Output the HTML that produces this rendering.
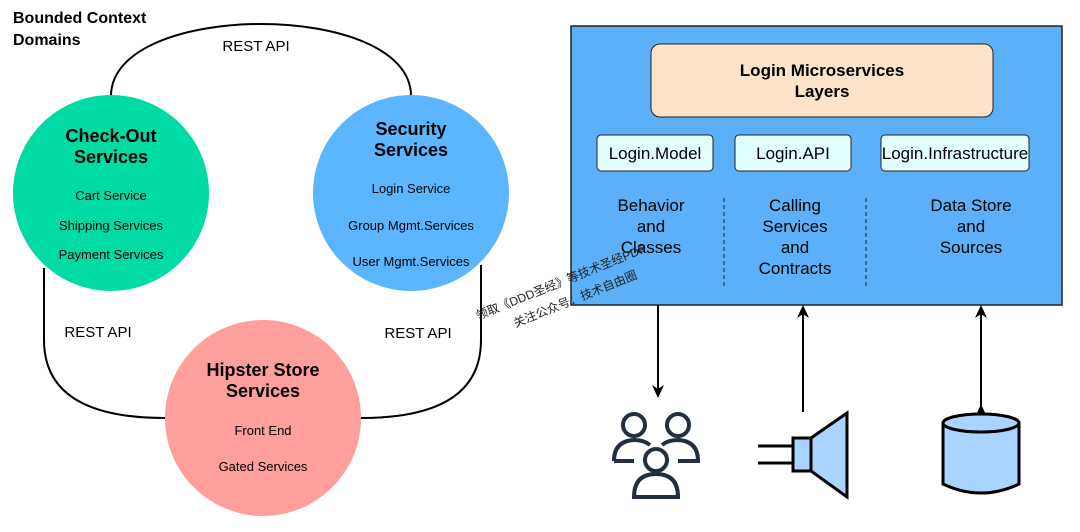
<!DOCTYPE html>
<html><head><meta charset="utf-8"><style>
body{margin:0;background:#fff;width:1080px;height:527px;overflow:hidden}
svg text{font-family:"Liberation Sans","Noto Sans CJK SC",sans-serif}
</style></head><body>
<svg width="1080" height="527" viewBox="0 0 1080 527" xmlns="http://www.w3.org/2000/svg">
<defs><marker id="ah" markerWidth="14" markerHeight="14" refX="7" refY="7" orient="auto" markerUnits="userSpaceOnUse"><path d="M0,1 L13,7 L0,13 L4,7 Z" fill="#000"/></marker></defs>
<text x="13" y="23" font-size="16" font-weight="bold">Bounded Context</text>
<text x="13" y="45" font-size="16" font-weight="bold">Domains</text>
<path d="M111,96 C111,0 411,0 411,96" fill="none" stroke="#000" stroke-width="2"/>
<text x="256" y="51" font-size="15" text-anchor="middle">REST API</text>
<path d="M44,268 L44,340 Q44,418 165,418" fill="none" stroke="#000" stroke-width="2"/>
<path d="M481,265 L481,340 Q481,418 361,418" fill="none" stroke="#000" stroke-width="2"/>
<text x="98" y="337" font-size="15" text-anchor="middle">REST API</text>
<text x="418" y="338" font-size="15" text-anchor="middle">REST API</text>
<circle cx="111" cy="193" r="98" fill="#00dba3"/>
<text x="111" y="142" font-size="18" font-weight="bold" text-anchor="middle">Check-Out</text>
<text x="111" y="163" font-size="18" font-weight="bold" text-anchor="middle">Services</text>
<text x="111" y="200" font-size="13" text-anchor="middle">Cart Service</text>
<text x="111" y="230" font-size="13" text-anchor="middle">Shipping Services</text>
<text x="111" y="259" font-size="13" text-anchor="middle">Payment Services</text>
<circle cx="411" cy="193" r="98" fill="#5cb6ff"/>
<text x="411" y="135" font-size="18" font-weight="bold" text-anchor="middle">Security</text>
<text x="411" y="156" font-size="18" font-weight="bold" text-anchor="middle">Services</text>
<text x="411" y="193" font-size="13" text-anchor="middle">Login Service</text>
<text x="411" y="230" font-size="13" text-anchor="middle">Group Mgmt.Services</text>
<text x="411" y="266" font-size="13" text-anchor="middle">User Mgmt.Services</text>
<circle cx="263" cy="418" r="98" fill="#ff9f9b"/>
<text x="263" y="376" font-size="18" font-weight="bold" text-anchor="middle">Hipster Store</text>
<text x="263" y="397" font-size="18" font-weight="bold" text-anchor="middle">Services</text>
<text x="263" y="435" font-size="13" text-anchor="middle">Front End</text>
<text x="263" y="471" font-size="13" text-anchor="middle">Gated Services</text>
<rect x="571" y="26" width="491" height="279" fill="#5cb0f7" stroke="#222" stroke-width="1.5"/>
<rect x="651" y="44" width="342" height="73" rx="9" fill="#fde3c8" stroke="#222" stroke-width="1"/>
<text x="822" y="76" font-size="17" font-weight="bold" text-anchor="middle">Login Microservices</text>
<text x="822" y="97" font-size="17" font-weight="bold" text-anchor="middle">Layers</text>
<rect x="597" y="135" width="116" height="36" rx="4" fill="#e2ffff" stroke="#222" stroke-width="1"/>
<text x="655" y="159" font-size="17" text-anchor="middle">Login.Model</text>
<rect x="735" y="135" width="116" height="36" rx="4" fill="#e2ffff" stroke="#222" stroke-width="1"/>
<text x="793" y="159" font-size="17" text-anchor="middle">Login.API</text>
<rect x="881" y="135" width="148" height="36" rx="4" fill="#e2ffff" stroke="#222" stroke-width="1"/>
<text x="955" y="159" font-size="17" text-anchor="middle">Login.Infrastructure</text>
<g font-size="17" text-anchor="middle">
<text x="651" y="211">Behavior</text><text x="651" y="232">and</text><text x="651" y="253">Classes</text>
<text x="795" y="211">Calling</text><text x="795" y="232">Services</text><text x="795" y="253">and</text><text x="795" y="274">Contracts</text>
<text x="971" y="211">Data Store</text><text x="971" y="232">and</text><text x="971" y="253">Sources</text>
</g>
<line x1="724" y1="198" x2="724" y2="286" stroke="#222" stroke-dasharray="4,3"/>
<line x1="866" y1="198" x2="866" y2="286" stroke="#222" stroke-dasharray="4,3"/>
<g font-size="12" fill="#222" transform="rotate(-22 478 320)">
<text x="478" y="320">领取《DDD圣经》等技术圣经PDF</text>
<text x="510" y="341">关注公众号：技术自由圈</text>
</g>
<line x1="658" y1="305" x2="658" y2="392" stroke="#000" stroke-width="2" marker-end="url(#ah)"/>
<line x1="803" y1="412" x2="803" y2="311" stroke="#000" stroke-width="2" marker-end="url(#ah)"/>
<line x1="981" y1="410" x2="981" y2="311" stroke="#000" stroke-width="2" marker-end="url(#ah)" marker-start="url(#ah)"/>
<g fill="none" stroke="#232f3e" stroke-width="4">
<circle cx="634" cy="425" r="11"/><circle cx="678" cy="425" r="11"/><circle cx="656" cy="460" r="11"/>
<path d="M614,461 Q614,441 634,440 Q644,440 650,445"/>
<path d="M662,445 Q668,440 678,440 Q698,441 698,461 L678,461"/>
<path d="M614,461 L634,461"/>
<path d="M634,497 Q634,474 656,474 Q678,474 678,497 Z"/>
</g>
<g stroke="#000" stroke-width="3" fill="#a8d4ff">
<line x1="758" y1="446" x2="793" y2="446"/><line x1="758" y1="463" x2="793" y2="463"/>
<rect x="793" y="438" width="18" height="33"/>
<path d="M811,438 L847,413 L847,497 L811,471 Z"/>
</g>
<g stroke="#000" stroke-width="3" fill="#a8d4ff">
<path d="M943,423 L943,484 Q981,502 1019,484 L1019,423"/>
<ellipse cx="981" cy="423" rx="38" ry="9"/>
</g>
</svg>
</body></html>
